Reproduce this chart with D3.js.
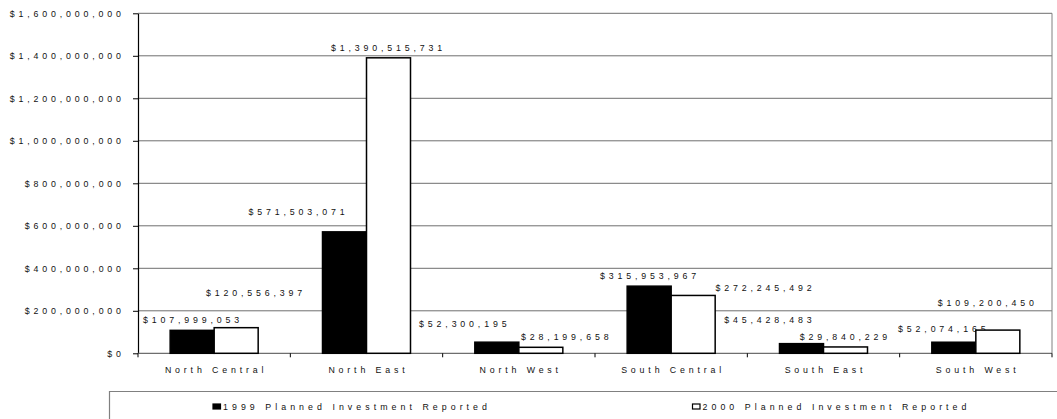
<!DOCTYPE html>
<html>
<head>
<meta charset="utf-8">
<script src="https://cdn.jsdelivr.net/npm/d3@7"></script>
<style>
  html, body { margin: 0; padding: 0; background: #fff; }
  svg { display: block; font-family: Arial, "Liberation Sans", sans-serif; }
</style>
</head>
<body>
<svg id="chart" width="1057" height="419"></svg>
<script>
// Regional planned investment, 1999 vs 2000
const regions = ["North Central", "North East", "North West", "South Central", "South East", "South West"];
const seriesNames = ["1999 Planned Investment Reported", "2000 Planned Investment Reported"];
const invest1999 = [107999053, 571503071, 52300195, 315953967, 45428483, 52074165];
const invest2000 = [120556397, 1390515731, 28199658, 272245492, 29840229, 109200450];
const yTicks = [0, 200000000, 400000000, 600000000, 800000000, 1000000000, 1200000000, 1400000000, 1600000000];

// Hand-placed nudges for value labels, relative to the top-centre of each bar [dx, dy]
const labelNudge1999 = [[-1, -11], [-48, -20], [-34, -18], [-1, -10.5], [-33.5, -23.5], [-12, -13]];
const labelNudge2000 = [[18, -34.5], [-2, -10.5], [24, -10.5], [70.5, -8], [-2, -10.3], [-12, -27.5]];

const svg = d3.select("#chart");
const plot = { left: 138, right: 1052, top: 13.3, bottom: 353.3 };
const FS = 8.8;  // font size used throughout
const LS = 3.85; // letter spacing used throughout
const TEXT = "#111";

const money = v => "$" + d3.format(",")(v);

const x0 = d3.scaleBand().domain(regions).range([plot.left, plot.right]).padding(0);
const x1 = d3.scaleBand().domain([0, 1]).range([0, x0.bandwidth()]).paddingInner(0).paddingOuter(0.731);
const y = d3.scaleLinear().domain([0, 1600000000]).range([plot.bottom, plot.top]);

// Gridlines
svg.append("g").selectAll("line").data(yTicks.filter(d => d > 0)).join("line")
  .attr("x1", plot.left).attr("x2", plot.right)
  .attr("y1", d => y(d)).attr("y2", d => y(d))
  .attr("stroke", "#6e6e6e").attr("stroke-width", 1);

// Right border of the plot area
svg.append("line")
  .attr("x1", plot.right).attr("x2", plot.right)
  .attr("y1", plot.top).attr("y2", plot.bottom)
  .attr("stroke", "#808080").attr("stroke-width", 1);

// Y axis
const yAxis = d3.axisLeft(y).tickValues(yTicks).tickSize(5).tickSizeOuter(0).tickPadding(12).tickFormat(money);
const gy = svg.append("g").attr("transform", `translate(${plot.left},0)`).call(yAxis);
gy.select(".domain").attr("stroke", "#000").attr("stroke-width", 1.2);
gy.selectAll(".tick line").attr("stroke", "#000");
gy.selectAll(".tick text")
  .attr("font-size", FS).attr("fill", TEXT)
  .style("letter-spacing", LS + "px")
  .attr("dx", LS).attr("dy", "0.36em");

// X axis baseline with ticks at category boundaries
const boundaries = regions.map(r => x0(r)).concat([plot.right]);
svg.append("line")
  .attr("x1", plot.left).attr("x2", plot.right)
  .attr("y1", plot.bottom).attr("y2", plot.bottom)
  .attr("stroke", "#6e6e6e").attr("stroke-width", 1.2);
svg.append("g").selectAll("line").data(boundaries).join("line")
  .attr("x1", d => d).attr("x2", d => d)
  .attr("y1", plot.bottom).attr("y2", plot.bottom + 4)
  .attr("stroke", "#000");

// Category labels
svg.append("g").selectAll("text").data(regions).join("text")
  .attr("x", d => x0(d) + x0.bandwidth() / 2 + LS / 2)
  .attr("y", 372.5)
  .attr("text-anchor", "middle")
  .attr("font-size", FS).attr("fill", TEXT)
  .style("letter-spacing", LS + "px")
  .text(d => d);

// Bars
const series = [
  { values: invest1999, fill: "#000", nudge: labelNudge1999 },
  { values: invest2000, fill: "#fff", nudge: labelNudge2000 }
];
const groups = svg.append("g").selectAll("g").data(series).join("g");
groups.each(function (s, si) {
  const g = d3.select(this);
  g.selectAll("rect").data(s.values).join("rect")
    .attr("x", (d, i) => x0(regions[i]) + x1(si))
    .attr("y", d => y(d))
    .attr("width", x1.bandwidth())
    .attr("height", d => plot.bottom - y(d))
    .attr("fill", s.fill)
    .attr("stroke", "#000").attr("stroke-width", 1.5);
});

// Value labels
groups.each(function (s, si) {
  const g = d3.select(this);
  g.selectAll("text").data(s.values).join("text")
    .attr("x", (d, i) => x0(regions[i]) + x1(si) + x1.bandwidth() / 2 + s.nudge[i][0] + LS / 2)
    .attr("y", (d, i) => y(d) + s.nudge[i][1] + 3.2)
    .attr("text-anchor", "middle")
    .attr("font-size", FS).attr("fill", TEXT)
    .style("letter-spacing", LS + "px")
    .text(d => money(d));
});

// Legend
const legend = svg.append("g");
legend.append("path")
  .attr("d", "M109.5,425 V391.5 H1060")
  .attr("fill", "none").attr("stroke", "#808080").attr("stroke-width", 1.2);
const legendItems = [
  { name: seriesNames[0], fill: "#000", x: 213 },
  { name: seriesNames[1], fill: "#fff", x: 692.5 }
];
legendItems.forEach(it => {
  legend.append("rect")
    .attr("x", it.x).attr("y", 404).attr("width", 7.5).attr("height", 5)
    .attr("fill", it.fill).attr("stroke", "#000").attr("stroke-width", 1.2);
  legend.append("text")
    .attr("x", it.x + 10).attr("y", 410)
    .attr("font-size", FS).attr("fill", TEXT)
    .style("letter-spacing", "4.05px")
    .text(it.name);
});
</script>
</body>
</html>
